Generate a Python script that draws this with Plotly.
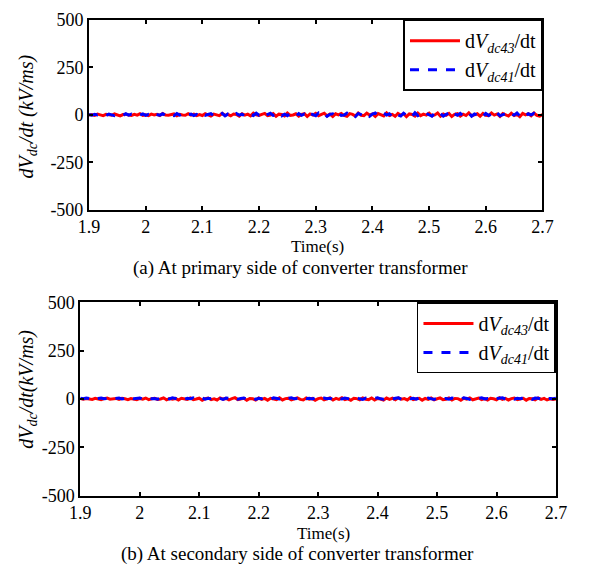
import numpy as np
import plotly.graph_objects as go

W, H = 592, 576

# ---------------- data ----------------
time_s = np.round(np.linspace(1.9, 2.7, 161), 4)

top_dvdc43 = [-2, 1, -4, 3, -1, -5, 2, 0, -3, 4, -2, -6, 1, 3, -1, -4, 2, -2, 5, -3,
              0, -5, 3, -1, 2, -4, 6, -2, -3, 1, 4, -6, 2, -1, -3, 5, -2, 3, -5, 1,
              -4, 6, -1, -7, 3, 0, -5, 7, -3, 2, -6, 4, 1, -8, 5, -2, 3, -6, 8, -1,
              -4, 2, 7, -5, -2, 6, -8, 3, 1, -6, 9, -3, -1, 5, -7, 2, 6, -9, 4, -2,
              7, -5, 0, 8, -6, 3, -9, 5, -1, 7, -4, -8, 6, 2, -7, 9, -3, -5, 8, -2,
              4, -9, 6, -1, -6, 10, -4, 2, -8, 7, -3, 5, -10, 4, 1, -7, 9, -5, 3, -2,
              8, -6, -1, 9, -8, 4, -3, 7, -9, 2, 6, -7, 3, -4, 10, -6, 1, 5, -8, 7,
              -3, -5, 9, -2, 4, -9, 6, 0, -7, 8, -4, 2, -10, 7, -1, 5, -6, 9, -3, -7,
              1]
top_dvdc41 = [1, -3, 2, -1, 4, -2, -4, 3, 0, -5, 2, 1, -3, 5, -2, 3, -4, 1, -1, 4,
              -3, 2, -6, 4, 0, -2, 5, -4, 3, -1, -5, 6, -2, 4, -6, 1, 3, -4, 2, -7,
              5, -3, 1, 6, -5, 2, -3, 7, -6, 4, 0, -7, 6, -2, 3, -8, 5, -1, -4, 8,
              -3, 5, -7, 1, 8, -4, -2, 9, -6, 3, -5, 7, -1, -8, 6, -3, 4, -9, 7, 0,
              -5, 9, -3, 6, -8, 2, 5, -7, 10, -4, -2, 8, -6, 3, -9, 7, 1, -5, 6, -8,
              3, 9, -4, -6, 8, -2, 5, -10, 6, 1, -7, 8, -3, 4, -9, 10, -5, 2, -6, 7,
              -1, -8, 9, -4, 6, -7, 2, 8, -9, 5, -3, 7, -6, 1, 9, -8, 4, -2, 6, -9,
              7, -4, 3, -8, 10, -5, 1, 6, -7, 4, -2, 9, -6, 3, -8, 5, -1, 7, -5, 2,
              -3]
bot_dvdc43 = [2, -1, 3, 0, -2, 4, 1, -3, 2, 5, -1, 0, 3, -2, 4, 1, -3, 2, 0, -4,
              3, -1, 5, -3, 1, 4, -2, 0, 6, -4, 2, -1, 3, -5, 4, 1, -2, 5, -3, 0,
              4, -6, 2, 5, -3, 1, -5, 6, -1, 3, -4, 2, 7, -3, 0, 4, -6, 3, 1, -5,
              5, -2, 3, -6, 4, 0, -3, 6, -5, 2, 4, -4, 1, 6, -2, -5, 5, -1, 3, -6,
              2, 5, -4, 0, 6, -5, 3, -2, 7, -3, 1, -6, 4, 2, -4, 6, -1, -3, 5, -5,
              3, 0, -6, 5, -2, 4, -4, 6, -1, 2, -5, 7, -3, 1, 4, -6, 3, -2, 5, -4,
              1, 6, -3, -1, 5, -5, 3, 2, -6, 4, -1, 6, -4, 0, 5, -3, 2, -5, 4, 1,
              -4, 6, -2, 3, -5, 2, 5, -3, 0, 4, -6, 3, 1, -4, 5, -2, 3, -5, 1, -2,
              0]
bot_dvdc41 = [4, 1, 5, 2, 6, 0, 3, 5, 1, 4, 6, 2, 3, 5, 0, 4, 2, 6, 1, 3,
              5, 0, 4, 6, 1, 3, -1, 5, 2, 4, 0, 6, 3, 1, 5, -2, 4, 2, 6, 0,
              3, 5, -1, 4, 2, 6, 0, 3, -2, 5, 4, 1, 6, -1, 3, 5, 0, 2, 6, -2,
              4, 1, 5, 3, -1, 6, 2, 0, 5, -2, 4, 6, 1, 3, -1, 5, 2, 4, 0, 6,
              -1, 3, 5, 1, 4, -2, 6, 2, 0, 5, 3, -1, 4, 6, 1, -2, 5, 3, 0, 4,
              6, 1, -1, 5, 3, 0, 4, 6, -2, 3, 5, 1, 4, -1, 6, 2, 0, 5, 3, -2,
              4, 6, 1, 3, -1, 5, 2, 4, 0, 6, 3, -2, 5, 1, 4, 6, 0, 3, -1, 5,
              2, 4, 6, 0, 3, 5, -1, 4, 2, 6, 1, 3, -2, 5, 4, 0, 6, 2, 3, 1,
              4]

x_tickvals = [1.9, 2.0, 2.1, 2.2, 2.3, 2.4, 2.5, 2.6, 2.7]
x_ticktext = ["1.9", "2", "2.1", "2.2", "2.3", "2.4", "2.5", "2.6", "2.7"]
y_tickvals = [-500, -250, 0, 250, 500]
y_ticktext = ["-500", "-250", "0", "250", "500"]

name_43 = "d<i>V<sub>dc43</sub></i>/dt"
name_41 = "d<i>V<sub>dc41</sub></i>/dt"
captions = ["(a) At primary side of converter transformer",
            "(b) At secondary side of converter transformer"]

FONT = "Liberation Serif"
RED = "#ff0000"
BLUE = "#0000ff"

fig = go.Figure()
fig.add_trace(go.Scatter(x=time_s, y=top_dvdc43, mode="lines", name=name_43,
                         line=dict(color=RED, width=3), xaxis="x", yaxis="y", legend="legend"))
fig.add_trace(go.Scatter(x=time_s, y=top_dvdc41, mode="lines", name=name_41,
                         line=dict(color=BLUE, width=3, dash="dash"), xaxis="x", yaxis="y", legend="legend"))
fig.add_trace(go.Scatter(x=time_s, y=bot_dvdc43, mode="lines", name=name_43,
                         line=dict(color=RED, width=3), xaxis="x2", yaxis="y2", legend="legend2"))
fig.add_trace(go.Scatter(x=time_s, y=bot_dvdc41, mode="lines", name=name_41,
                         line=dict(color=BLUE, width=3, dash="dash"), xaxis="x2", yaxis="y2", legend="legend2"))

def px_x(p):
    return p / W

def px_y(p):
    return 1 - p / H

axis_common = dict(showline=True, linecolor="black", linewidth=2, mirror="ticks",
                   ticks="inside", ticklen=4, tickwidth=1.5, tickcolor="black",
                   showgrid=False, zeroline=False,
                   tickfont=dict(family=FONT, size=18, color="black"))

top_x = (81, 552); top_y = (10, 207)
bot_x = (72, 566); bot_y = (303, 503)

legend_common = dict(xanchor="right", yanchor="top", bgcolor="white",
                     bordercolor="black", borderwidth=1.5, itemwidth=50,
                     font=dict(family=FONT, size=20, color="black"))

fig.update_layout(
    width=W, height=H, margin=dict(l=0, r=0, t=0, b=0),
    paper_bgcolor="white", plot_bgcolor="white",
    font=dict(family=FONT, color="black"),
    xaxis=dict(domain=[px_x(top_x[0]), px_x(top_x[1])], range=[1.9, 2.7], anchor="y",
               tickvals=x_tickvals, ticktext=x_ticktext, **axis_common),
    yaxis=dict(domain=[px_y(top_y[1]), px_y(top_y[0])], range=[-500, 500], anchor="x",
               tickvals=y_tickvals, ticktext=y_ticktext, **axis_common),
    xaxis2=dict(domain=[px_x(bot_x[0]), px_x(bot_x[1])], range=[1.9, 2.7], anchor="y2",
                tickvals=x_tickvals, ticktext=x_ticktext, **axis_common),
    yaxis2=dict(domain=[px_y(bot_y[1]), px_y(bot_y[0])], range=[-500, 500], anchor="x2",
                tickvals=y_tickvals, ticktext=y_ticktext, **axis_common),
    legend=dict(x=px_x(top_x[1]), y=px_y(top_y[0]), **legend_common),
    legend2=dict(x=px_x(bot_x[1]), y=px_y(bot_y[0]), **legend_common),
    showlegend=True,
)

ann = []
ann.append(dict(text="<i>dV<sub>dc</sub>/dt (kV/ms)</i>", x=px_x(17), y=px_y(110),
                textangle=-90, font=dict(size=20)))
ann.append(dict(text="<i>dV<sub>dc</sub>/dt(kV/ms)</i>", x=px_x(17), y=px_y(393),
                textangle=-90, font=dict(size=20)))
ann.append(dict(text="Time(s)", x=px_x(318), y=px_y(245), font=dict(size=17)))
ann.append(dict(text="Time(s)", x=px_x(325), y=px_y(542), font=dict(size=17)))
ann.append(dict(text=captions[0], x=px_x(301), y=px_y(267), font=dict(size=19)))
ann.append(dict(text=captions[1], x=px_x(298), y=px_y(564), font=dict(size=19)))
for a in ann:
    a.update(xref="paper", yref="paper", showarrow=False, xanchor="center", yanchor="middle")
    a["font"].update(family=FONT, color="black")
fig.update_layout(annotations=ann)

fig.write_html("out.html")
